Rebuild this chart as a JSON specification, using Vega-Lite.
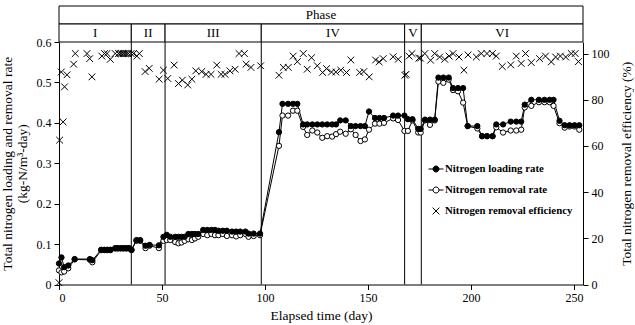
{
 "$schema": "https://vega.github.io/schema/vega-lite/v6.json",
 "padding": {"left": 0, "top": 5, "right": 1, "bottom": 2},
 "background": "white",
 "config": {
  "font": "Times New Roman, Liberation Serif, serif",
  "view": {"stroke": null},
  "axis": {"labelFont": "Times New Roman, Liberation Serif, serif", "titleFont": "Times New Roman, Liberation Serif, serif", "labelFontSize": 12, "titleFontSize": 13.5, "titleFontWeight": "normal", "domainColor": "black", "tickColor": "black", "labelColor": "black", "titleColor": "black", "grid": false, "tickSize": 5, "domainWidth": 1, "tickWidth": 1}
 },
 "datasets": {
  "band": [
   {"label": "Phase", "start": 0, "end": 254.4, "row": "top"},
   {"label": "I", "start": 0, "end": 35.1, "row": "bottom"},
   {"label": "II", "start": 35.1, "end": 51.5, "row": "bottom"},
   {"label": "III", "start": 51.5, "end": 98.2, "row": "bottom"},
   {"label": "IV", "start": 98.2, "end": 167.8, "row": "bottom"},
   {"label": "V", "start": 167.8, "end": 175.9, "row": "bottom"},
   {"label": "VI", "start": 175.9, "end": 254.4, "row": "bottom"}
  ],
  "bounds": [{"day": 35.1}, {"day": 51.5}, {"day": 98.2}, {"day": 167.8}, {"day": 175.9}],
  "legend": [{"series": "Nitrogen loading rate"}, {"series": "Nitrogen removal rate"}, {"series": "Nitrogen removal efficiency"}],
  "rates": [
   {"day": 0, "nlr": 0.052, "nrr": 0.035},
   {"day": 1.2, "nlr": 0.067, "nrr": 0.030},
   {"day": 2.5, "nlr": 0.043, "nrr": 0.032},
   {"day": 4.5, "nlr": 0.047, "nrr": 0.040},
   {"day": 7.6, "nlr": 0.063, "nrr": 0.062},
   {"day": 15, "nlr": 0.063, "nrr": 0.061},
   {"day": 16.2, "nlr": 0.060, "nrr": 0.055},
   {"day": 20.5, "nlr": 0.086, "nrr": 0.085},
   {"day": 22, "nlr": 0.086, "nrr": 0.085},
   {"day": 23.5, "nlr": 0.086, "nrr": 0.085},
   {"day": 25, "nlr": 0.086, "nrr": 0.085},
   {"day": 27.3, "nlr": 0.090, "nrr": 0.089},
   {"day": 28.6, "nlr": 0.090, "nrr": 0.089},
   {"day": 30, "nlr": 0.090, "nrr": 0.089},
   {"day": 31.3, "nlr": 0.090, "nrr": 0.089},
   {"day": 32.6, "nlr": 0.090, "nrr": 0.089},
   {"day": 34, "nlr": 0.090, "nrr": 0.089},
   {"day": 35.2, "nlr": 0.086, "nrr": 0.085},
   {"day": 37.6, "nlr": 0.110, "nrr": 0.108},
   {"day": 39.4, "nlr": 0.110, "nrr": 0.108},
   {"day": 42, "nlr": 0.096, "nrr": 0.090},
   {"day": 44, "nlr": 0.098, "nrr": 0.096},
   {"day": 48.5, "nlr": 0.097, "nrr": 0.090},
   {"day": 50.7, "nlr": 0.118, "nrr": 0.108},
   {"day": 52.3, "nlr": 0.123, "nrr": 0.110},
   {"day": 54, "nlr": 0.118, "nrr": 0.110},
   {"day": 56.4, "nlr": 0.118, "nrr": 0.105},
   {"day": 58, "nlr": 0.118, "nrr": 0.102},
   {"day": 59.5, "nlr": 0.118, "nrr": 0.104},
   {"day": 61, "nlr": 0.118, "nrr": 0.108},
   {"day": 62.8, "nlr": 0.125, "nrr": 0.112},
   {"day": 64.5, "nlr": 0.125, "nrr": 0.110},
   {"day": 66, "nlr": 0.125, "nrr": 0.114},
   {"day": 67.6, "nlr": 0.125, "nrr": 0.118},
   {"day": 70, "nlr": 0.135, "nrr": 0.125},
   {"day": 72, "nlr": 0.135, "nrr": 0.122},
   {"day": 74, "nlr": 0.135, "nrr": 0.125},
   {"day": 75.7, "nlr": 0.135, "nrr": 0.122},
   {"day": 77.4, "nlr": 0.133, "nrr": 0.122},
   {"day": 79.5, "nlr": 0.133, "nrr": 0.125},
   {"day": 81.5, "nlr": 0.133, "nrr": 0.120},
   {"day": 84, "nlr": 0.131, "nrr": 0.122},
   {"day": 86, "nlr": 0.131, "nrr": 0.119},
   {"day": 88, "nlr": 0.131, "nrr": 0.122},
   {"day": 90.5, "nlr": 0.131, "nrr": 0.125},
   {"day": 92, "nlr": 0.126, "nrr": 0.118},
   {"day": 94.5, "nlr": 0.126, "nrr": 0.120},
   {"day": 97.6, "nlr": 0.126, "nrr": 0.122},
   {"day": 106.8, "nlr": 0.377, "nrr": 0.343},
   {"day": 108.5, "nlr": 0.447, "nrr": 0.418},
   {"day": 111.2, "nlr": 0.447, "nrr": 0.418},
   {"day": 113.6, "nlr": 0.447, "nrr": 0.430},
   {"day": 115.7, "nlr": 0.447, "nrr": 0.430},
   {"day": 118.5, "nlr": 0.396, "nrr": 0.390},
   {"day": 120.5, "nlr": 0.396, "nrr": 0.370},
   {"day": 123, "nlr": 0.396, "nrr": 0.381},
   {"day": 125.4, "nlr": 0.396, "nrr": 0.376},
   {"day": 127.8, "nlr": 0.396, "nrr": 0.363},
   {"day": 130.2, "nlr": 0.396, "nrr": 0.367},
   {"day": 132.6, "nlr": 0.396, "nrr": 0.366},
   {"day": 134.5, "nlr": 0.396, "nrr": 0.372},
   {"day": 136.5, "nlr": 0.406, "nrr": 0.378},
   {"day": 139.2, "nlr": 0.406, "nrr": 0.373},
   {"day": 141.7, "nlr": 0.392, "nrr": 0.384},
   {"day": 144, "nlr": 0.392, "nrr": 0.370},
   {"day": 146.4, "nlr": 0.392, "nrr": 0.355},
   {"day": 148.5, "nlr": 0.392, "nrr": 0.359},
   {"day": 150.5, "nlr": 0.428, "nrr": 0.383},
   {"day": 153.4, "nlr": 0.412, "nrr": 0.398},
   {"day": 155.6, "nlr": 0.412, "nrr": 0.398},
   {"day": 157.8, "nlr": 0.412, "nrr": 0.400},
   {"day": 162.2, "nlr": 0.418, "nrr": 0.411},
   {"day": 164.6, "nlr": 0.418, "nrr": 0.407},
   {"day": 167.7, "nlr": 0.418, "nrr": 0.380},
   {"day": 169.4, "nlr": 0.409, "nrr": 0.380},
   {"day": 171.6, "nlr": 0.409, "nrr": 0.406},
   {"day": 174.4, "nlr": 0.385, "nrr": 0.376},
   {"day": 175.6, "nlr": 0.385, "nrr": 0.376},
   {"day": 177.7, "nlr": 0.408, "nrr": 0.406},
   {"day": 180.1, "nlr": 0.408, "nrr": 0.395},
   {"day": 182.4, "nlr": 0.408, "nrr": 0.406},
   {"day": 184.2, "nlr": 0.512, "nrr": 0.502},
   {"day": 186.6, "nlr": 0.512, "nrr": 0.499},
   {"day": 189.2, "nlr": 0.512, "nrr": 0.507},
   {"day": 191.3, "nlr": 0.486, "nrr": 0.481},
   {"day": 193.7, "nlr": 0.486, "nrr": 0.478},
   {"day": 196.2, "nlr": 0.486, "nrr": 0.450},
   {"day": 198.4, "nlr": 0.392, "nrr": 0.392},
   {"day": 203.1, "nlr": 0.392, "nrr": 0.386},
   {"day": 205.4, "nlr": 0.367, "nrr": 0.367},
   {"day": 207.8, "nlr": 0.367, "nrr": 0.367},
   {"day": 210.5, "nlr": 0.367, "nrr": 0.367},
   {"day": 212.3, "nlr": 0.396, "nrr": 0.389},
   {"day": 215.6, "nlr": 0.396, "nrr": 0.376},
   {"day": 219.3, "nlr": 0.403, "nrr": 0.381},
   {"day": 222, "nlr": 0.403, "nrr": 0.381},
   {"day": 224.4, "nlr": 0.403, "nrr": 0.383},
   {"day": 226.1, "nlr": 0.445, "nrr": 0.438},
   {"day": 229.3, "nlr": 0.457, "nrr": 0.442},
   {"day": 233, "nlr": 0.457, "nrr": 0.451},
   {"day": 235.7, "nlr": 0.457, "nrr": 0.451},
   {"day": 238.2, "nlr": 0.457, "nrr": 0.451},
   {"day": 240.1, "nlr": 0.457, "nrr": 0.442},
   {"day": 243, "nlr": 0.405, "nrr": 0.399},
   {"day": 245.5, "nlr": 0.394, "nrr": 0.388},
   {"day": 247.9, "nlr": 0.394, "nrr": 0.391},
   {"day": 250.3, "nlr": 0.394, "nrr": 0.391},
   {"day": 252.6, "nlr": 0.394, "nrr": 0.383}
  ],
  "eff": [
   {"day": 0, "eff": 0.8}, {"day": 0.3, "eff": 62.5}, {"day": 1.1, "eff": 92.0}, {"day": 2, "eff": 70.4},
   {"day": 2.7, "eff": 85.6}, {"day": 3.9, "eff": 90.8}, {"day": 7.1, "eff": 95.4}, {"day": 7.9, "eff": 100},
   {"day": 13.6, "eff": 100}, {"day": 14.9, "eff": 97.8}, {"day": 16, "eff": 89.9}, {"day": 20.8, "eff": 98.9},
   {"day": 22.1, "eff": 100}, {"day": 23.3, "eff": 100}, {"day": 24.9, "eff": 97.5}, {"day": 27.3, "eff": 100},
   {"day": 28.9, "eff": 100}, {"day": 29.7, "eff": 100}, {"day": 30.5, "eff": 100}, {"day": 31.3, "eff": 100},
   {"day": 32.1, "eff": 100}, {"day": 32.9, "eff": 100}, {"day": 33.7, "eff": 100}, {"day": 35, "eff": 100},
   {"day": 36.2, "eff": 100}, {"day": 37.8, "eff": 98.9}, {"day": 39, "eff": 100}, {"day": 41.8, "eff": 92.2},
   {"day": 43.8, "eff": 93.6}, {"day": 48.6, "eff": 88.9}, {"day": 50.7, "eff": 92.8}, {"day": 52.8, "eff": 89.2},
   {"day": 55.9, "eff": 95.0}, {"day": 58, "eff": 87.0}, {"day": 59.9, "eff": 88.5}, {"day": 62.5, "eff": 86.4},
   {"day": 64.5, "eff": 88.9}, {"day": 66.4, "eff": 92.5}, {"day": 69.3, "eff": 92.2}, {"day": 71.4, "eff": 91.0},
   {"day": 73.8, "eff": 91.0}, {"day": 76.6, "eff": 95.0}, {"day": 78.7, "eff": 91.0}, {"day": 80.6, "eff": 91.0},
   {"day": 83, "eff": 92.5}, {"day": 85.5, "eff": 93.2}, {"day": 87.4, "eff": 100}, {"day": 90, "eff": 100},
   {"day": 90.8, "eff": 95.4}, {"day": 93.2, "eff": 94.0}, {"day": 97.9, "eff": 94.7}, {"day": 106.8, "eff": 90.6},
   {"day": 108.9, "eff": 94.0}, {"day": 111.3, "eff": 94.0}, {"day": 113.7, "eff": 98.9}, {"day": 115.7, "eff": 96.5},
   {"day": 118.6, "eff": 100}, {"day": 120.5, "eff": 93.2}, {"day": 122.6, "eff": 98.2}, {"day": 125.4, "eff": 94.7},
   {"day": 128, "eff": 91.8}, {"day": 129.9, "eff": 93.5}, {"day": 132.3, "eff": 92.0}, {"day": 134.4, "eff": 92.0},
   {"day": 136.8, "eff": 92.8}, {"day": 139.6, "eff": 91.8}, {"day": 141.7, "eff": 97.2}, {"day": 146, "eff": 91.8},
   {"day": 148, "eff": 92.2}, {"day": 150.6, "eff": 89.9}, {"day": 153.7, "eff": 97.2}, {"day": 155.4, "eff": 96.4},
   {"day": 157.4, "eff": 97.8}, {"day": 162.2, "eff": 98.6}, {"day": 164.7, "eff": 97.5}, {"day": 167.9, "eff": 90.6},
   {"day": 168.5, "eff": 91.0}, {"day": 170, "eff": 98.9}, {"day": 171.4, "eff": 100}, {"day": 174.7, "eff": 98.0},
   {"day": 175.5, "eff": 98.0}, {"day": 177.6, "eff": 100}, {"day": 180.4, "eff": 97.1}, {"day": 182.4, "eff": 100},
   {"day": 184.8, "eff": 98.5}, {"day": 187.3, "eff": 97.5}, {"day": 189.4, "eff": 98.9}, {"day": 191.3, "eff": 100},
   {"day": 194.2, "eff": 98.5}, {"day": 196.6, "eff": 92.8}, {"day": 198.6, "eff": 99.4}, {"day": 202.6, "eff": 98.5},
   {"day": 205, "eff": 100}, {"day": 207.8, "eff": 100}, {"day": 210.4, "eff": 100}, {"day": 212.3, "eff": 98.9},
   {"day": 215.2, "eff": 94.4}, {"day": 219.3, "eff": 95.1}, {"day": 222, "eff": 98.9}, {"day": 224.4, "eff": 95.7},
   {"day": 226.5, "eff": 100}, {"day": 229.3, "eff": 96.1}, {"day": 233.3, "eff": 97.8}, {"day": 236.2, "eff": 98.9},
   {"day": 239, "eff": 96.4}, {"day": 241.1, "eff": 98.5}, {"day": 243.4, "eff": 98.9}, {"day": 246, "eff": 98.5},
   {"day": 248.7, "eff": 100}, {"day": 250.6, "eff": 100}, {"day": 252.2, "eff": 96.5}
  ]
 },
 "spacing": 0,
 "bounds": "flush",
 "vconcat": [
  {
   "width": 524,
   "height": 36,
   "data": {"name": "band"},
   "transform": [{"calculate": "(datum.start + datum.end) / 2", "as": "mid"}],
   "layer": [
    {
     "mark": {"type": "rect", "fill": "white", "stroke": "black", "strokeWidth": 1},
     "encoding": {
      "x": {"field": "start", "type": "quantitative", "scale": {"domain": [0, 254.4], "nice": false, "zero": false}, "axis": null},
      "x2": {"field": "end"},
      "y": {"field": "row", "type": "nominal", "scale": {"domain": ["top", "bottom"], "paddingInner": 0, "paddingOuter": 0}, "axis": null}
     }
    },
    {
     "mark": {"type": "text", "font": "Times New Roman, Liberation Serif, serif", "fontSize": 13, "color": "black"},
     "encoding": {
      "x": {"field": "mid", "type": "quantitative", "axis": null},
      "y": {"field": "row", "type": "nominal", "axis": null},
      "text": {"field": "label"}
     }
    }
   ]
  },
  {
   "width": 524,
   "height": 242.5,
   "layer": [
    {
     "layer": [
      {
       "data": {"name": "bounds"},
       "mark": {"type": "rule", "color": "black", "strokeWidth": 1},
       "encoding": {
        "x": {"field": "day", "type": "quantitative", "title": "Elapsed time (day)", "scale": {"domain": [0, 254.4], "nice": false, "zero": false},
              "axis": {"values": [0, 50, 100, 150, 200, 250], "labelPadding": 3, "titlePadding": 5}}
       }
      },
      {
       "data": {"name": "rates"},
       "mark": {"type": "line", "color": "black", "strokeWidth": 1},
       "encoding": {
        "x": {"field": "day", "type": "quantitative", "title": "Elapsed time (day)"},
        "y": {"field": "nrr", "type": "quantitative", "title": ["Total nitrogen loading and removal rate", "(kg-N/m³-day)"],
              "scale": {"domain": [0, 0.6], "nice": false},
              "axis": {"values": [0, 0.1, 0.2, 0.3, 0.4, 0.5, 0.6], "labelExpr": "datum.value == 0 ? '0' : format(datum.value, '.1f')", "labelPadding": 3, "titlePadding": 7, "titleLineHeight": 15}}
       }
      },
      {
       "data": {"name": "rates"},
       "mark": {"type": "line", "color": "black", "strokeWidth": 1},
       "encoding": {
        "x": {"field": "day", "type": "quantitative", "title": "Elapsed time (day)"},
        "y": {"field": "nlr", "type": "quantitative", "title": ["Total nitrogen loading and removal rate", "(kg-N/m³-day)"]}
       }
      },
      {
       "data": {"name": "rates"},
       "mark": {"type": "point", "shape": "circle", "filled": true, "fill": "white", "stroke": "black", "strokeWidth": 1, "size": 28, "opacity": 1},
       "encoding": {
        "x": {"field": "day", "type": "quantitative", "title": "Elapsed time (day)"},
        "y": {"field": "nrr", "type": "quantitative", "title": ["Total nitrogen loading and removal rate", "(kg-N/m³-day)"]}
       }
      },
      {
       "data": {"name": "rates"},
       "mark": {"type": "point", "shape": "circle", "filled": true, "fill": "black", "stroke": "black", "strokeWidth": 1, "size": 28, "opacity": 1},
       "encoding": {
        "x": {"field": "day", "type": "quantitative", "title": "Elapsed time (day)"},
        "y": {"field": "nlr", "type": "quantitative", "title": ["Total nitrogen loading and removal rate", "(kg-N/m³-day)"]}
       }
      },
      {
       "data": {"name": "legend"},
       "mark": {"type": "point", "opacity": 0, "size": 225, "stroke": "black"},
       "encoding": {
        "shape": {"field": "series", "type": "nominal",
                  "scale": {"domain": ["Nitrogen loading rate", "Nitrogen removal rate", "Nitrogen removal efficiency"],
                            "range": ["M-1,0L-0.4,0M0.4,0L1,0M-0.4,0A0.4,0.4,0,1,1,0.4,0A0.4,0.4,0,1,1,-0.4,0Z", "M-1,0L-0.4,0M0.4,0L1,0M-0.4,0A0.4,0.4,0,1,1,0.4,0A0.4,0.4,0,1,1,-0.4,0Z", "M-0.45,-0.45L0.45,0.45M-0.45,0.45L0.45,-0.45"]},
                  "legend": {"title": null, "orient": "none", "legendX": 369, "legendY": 155, "symbolSize": 225, "symbolStrokeWidth": 1, "symbolStrokeColor": "black", "symbolOpacity": 1, "labelFont": "Times New Roman, Liberation Serif, serif", "labelFontWeight": "bold", "labelFontSize": 10.8, "labelColor": "black", "labelOffset": 1, "rowPadding": 8, "labelLimit": 300,
                             "encode": {"symbols": {"update": {"opacity": {"value": 1}, "stroke": {"value": "black"}, "strokeWidth": {"value": 1}}}}}},
        "fill": {"field": "series", "type": "nominal",
                 "scale": {"domain": ["Nitrogen loading rate", "Nitrogen removal rate", "Nitrogen removal efficiency"], "range": ["black", "white", "black"]},
                 "legend": {"title": null, "orient": "none", "legendX": 369, "legendY": 155, "symbolSize": 225, "symbolStrokeWidth": 1, "symbolStrokeColor": "black", "symbolOpacity": 1, "labelFont": "Times New Roman, Liberation Serif, serif", "labelFontWeight": "bold", "labelFontSize": 10.8, "labelColor": "black", "labelOffset": 1, "rowPadding": 8, "labelLimit": 300,
                            "encode": {"symbols": {"update": {"opacity": {"value": 1}, "stroke": {"value": "black"}, "strokeWidth": {"value": 1}}}}}}
       }
      }
     ]
    },
    {
     "data": {"name": "eff"},
     "mark": {"type": "point", "shape": "M-1,-1L1,1M-1,1L1,-1", "filled": false, "stroke": "black", "strokeWidth": 1, "size": 45, "opacity": 1},
     "encoding": {
      "x": {"field": "day", "type": "quantitative", "title": "Elapsed time (day)"},
      "y": {"field": "eff", "type": "quantitative", "title": "Total nitrogen removal efficiency (%)",
            "scale": {"domain": [0, 105], "nice": false},
            "axis": {"orient": "right", "values": [0, 20, 40, 60, 80, 100], "labelPadding": 3, "titlePadding": 10, "titleAngle": 270, "titleBaseline": "top"}}
     }
    }
   ],
   "resolve": {"scale": {"y": "independent"}}
  }
 ]
}
